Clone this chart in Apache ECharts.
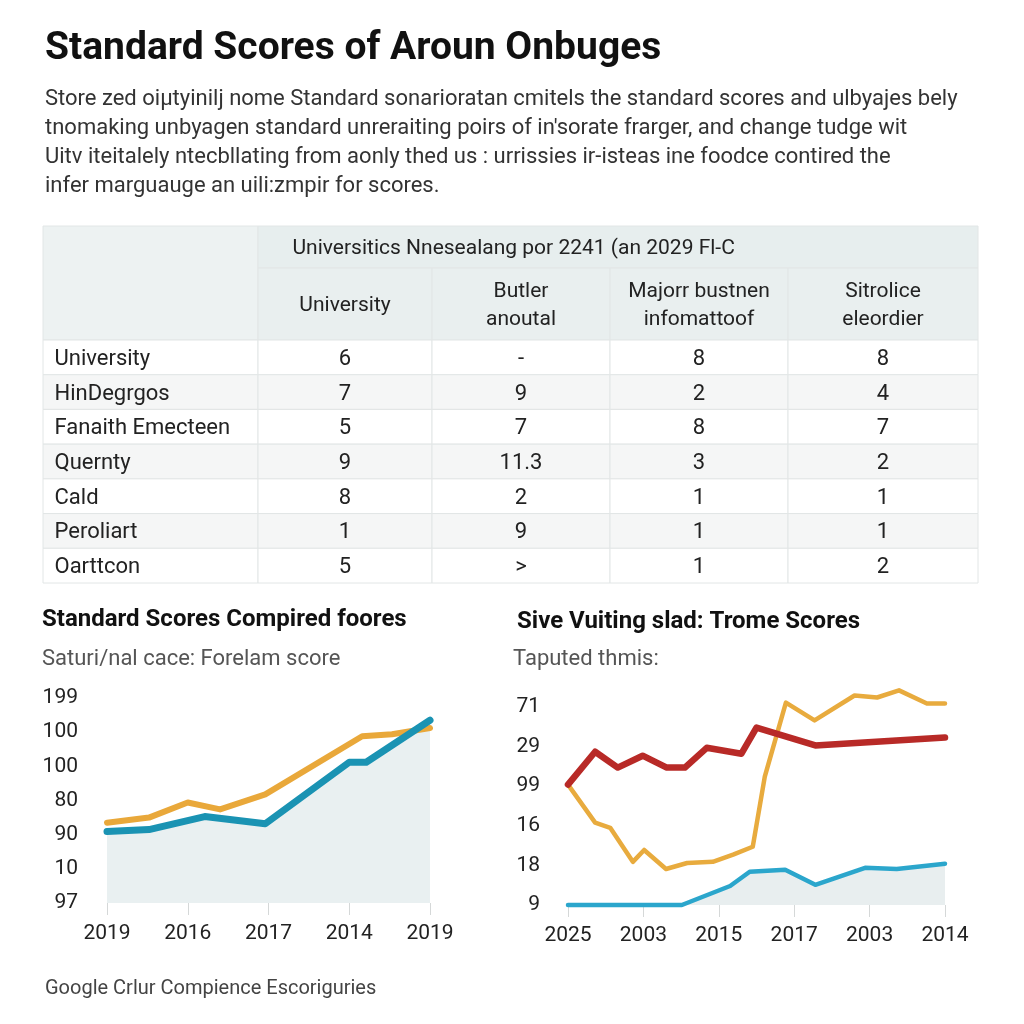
<!DOCTYPE html>
<html>
<head>
<meta charset="utf-8">
<script src="https://cdn.jsdelivr.net/npm/echarts@6/dist/echarts.min.js"></script>
<style>
  html, body { margin: 0; padding: 0; background: #ffffff; }
  #main { width: 1024px; height: 1024px; }
</style>
</head>
<body>
<div id="main"></div>
<script>
// ---------------- DATA ----------------
const pageTitle = "Standard Scores of Aroun Onbuges";
const paragraph = [
  "Store zed oiµtyinilj nome Standard sonarioratan cmitels the standard scores and ulbyajes bely",
  "tnomaking unbyagen standard unreraiting poirs of in'sorate frarger, and change tudge wit",
  "Uitv iteitalely ntecbllating from aonly thed us : urrissies ir-isteas ine foodce contired the",
  "infer marguauge an uili:zmpir for scores."
];
const tableGroupHeader = "Universitics Nnesealang por 2241 (an 2029 Fl-C";
const tableColumns = ["University", "Butler\nanoutal", "Majorr bustnen\ninfomattoof", "Sitrolice\neleordier"];
const tableRows = ["University", "HinDegrgos", "Fanaith Emecteen", "Quernty", "Cald", "Peroliart", "Oarttcon"];
const colUniversity = ["6", "7", "5", "9", "8", "1", "5"];
const colButler = ["-", "9", "7", "11.3", "2", "9", ">"];
const colMajor = ["8", "2", "8", "3", "1", "1", "1"];
const colSitrolice = ["8", "4", "7", "2", "1", "1", "2"];

const leftTitle = "Standard Scores Compired foores";
const leftSubtitle = "Saturi/nal cace: Forelam score";
const leftXLabels = ["2019", "2016", "2017", "2014", "2019"];
const leftYLabels = ["97", "10", "90", "80", "100", "100", "199"];
const leftOrangeX = [0, 0.52, 1.0, 1.40, 1.96, 3.16, 3.53, 4.0];
const leftOrangeY = [2.35, 2.5, 2.94, 2.74, 3.18, 4.88, 4.94, 5.12];
const leftBlueX = [0, 0.52, 1.21, 1.96, 3.0, 3.21, 4.0];
const leftBlueY = [2.09, 2.15, 2.53, 2.32, 4.12, 4.12, 5.35];

const rightTitle = "Sive Vuiting slad: Trome Scores";
const rightSubtitle = "Taputed thmis:";
const rightXLabels = ["2025", "2003", "2015", "2017", "2003", "2014"];
const rightYLabels = ["9", "18", "16", "99", "29", "71"];
const rightRedX = [0, 0.36, 0.66, 0.99, 1.31, 1.55, 1.84, 2.3, 2.5, 3.28, 5.0];
const rightRedY = [3.04, 3.87, 3.47, 3.77, 3.47, 3.47, 3.97, 3.82, 4.48, 4.03, 4.23];
const rightOrangeX = [0, 0.36, 0.56, 0.86, 1.01, 1.3, 1.58, 1.92, 2.19, 2.45, 2.61, 2.89, 3.27, 3.8, 4.1, 4.39, 4.76, 5.0];
const rightOrangeY = [3.04, 2.08, 1.95, 1.09, 1.39, 0.91, 1.06, 1.09, 1.27, 1.47, 3.24, 5.11, 4.66, 5.29, 5.24, 5.42, 5.09, 5.09];
const rightBlueX = [0, 1.51, 2.15, 2.41, 2.88, 3.28, 3.94, 4.36, 5.0];
const rightBlueY = [0, 0, 0.48, 0.84, 0.89, 0.51, 0.94, 0.91, 1.04];

const footer = "Google Crlur Compience Escoriguries";

// ---------------- LAYOUT (not data) ----------------
const FONT = "Roboto, 'Liberation Sans', sans-serif";
const colEdges = [0, 215, 389, 567, 745, 935];
const rowEdges = [0, 42, 114];
for (let i = 1; i <= tableRows.length; i++) rowEdges.push(114 + i * (357 - 114) / tableRows.length);

// build table cells
const valueCols = [colUniversity, colButler, colMajor, colSitrolice];
const cells = [];
cells.push({ value: [colEdges[0], rowEdges[0], colEdges[1], rowEdges[2]], text: "", fill: "#edf2f2", align: "center", size: 21 });
cells.push({ value: [colEdges[1], rowEdges[0], colEdges[5], rowEdges[1]], text: tableGroupHeader, fill: "#e7eeee", align: "left", pad: 35, size: 21 });
tableColumns.forEach((c, i) => {
  cells.push({ value: [colEdges[i + 1], rowEdges[1], colEdges[i + 2], rowEdges[2]], text: c, fill: "#e9efef", align: "center", size: 21 });
});
tableRows.forEach((r, ri) => {
  const fill = ri % 2 === 0 ? "#ffffff" : "#f5f6f6";
  cells.push({ value: [colEdges[0], rowEdges[ri + 2], colEdges[1], rowEdges[ri + 3]], text: r, fill, align: "left", pad: 12, size: 22 });
  valueCols.forEach((col, ci) => {
    cells.push({ value: [colEdges[ci + 1], rowEdges[ri + 2], colEdges[ci + 2], rowEdges[ri + 3]], text: col[ri], fill, align: "center", size: 22 });
  });
});

const zip = (xs, ys) => xs.map((x, i) => [x, ys[i]]);
const labelFmt = arr => v => (Math.abs(v - Math.round(v)) < 1e-6 && arr[Math.round(v)] !== undefined) ? arr[Math.round(v)] : "";

const chart = echarts.init(document.getElementById("main"), null, { renderer: "canvas" });

const axisLabelStyle = { color: "#222", fontSize: 21, fontFamily: FONT };

const option = {
  backgroundColor: "#ffffff",
  animation: false,
  graphic: [
    { type: "text", left: 45, top: 30, style: { text: pageTitle, font: "bold 39px " + FONT, fill: "#111" } },
    { type: "text", left: 45, top: 85, style: { text: paragraph.join("\n"), font: "22px " + FONT, fill: "#333", lineHeight: 29 } },
    { type: "text", left: 42, top: 608, style: { text: leftTitle, font: "bold 24px " + FONT, fill: "#111" } },
    { type: "text", left: 42, top: 648, style: { text: leftSubtitle, font: "22px " + FONT, fill: "#555" } },
    { type: "text", left: 517, top: 610, style: { text: rightTitle, font: "bold 24px " + FONT, fill: "#111" } },
    { type: "text", left: 513, top: 648, style: { text: rightSubtitle, font: "22px " + FONT, fill: "#555" } },
    { type: "text", left: 45, top: 979, style: { text: footer, font: "20px " + FONT, fill: "#444" } }
  ],
  grid: [
    { left: 43, top: 226, width: 935, height: 357 },
    { left: 107, top: 698, width: 323, height: 205 },
    { left: 568, top: 707, width: 377, height: 198 }
  ],
  xAxis: [
    { gridIndex: 0, type: "value", min: 0, max: 935, show: false },
    {
      gridIndex: 1, type: "value", min: 0, max: 4, interval: 1,
      axisLine: { show: false },
      axisTick: { show: true, length: 12, lineStyle: { color: "#d5d8d8" } },
      splitLine: { show: false },
      axisLabel: Object.assign({ margin: 20, formatter: labelFmt(leftXLabels) }, axisLabelStyle)
    },
    {
      gridIndex: 2, type: "value", min: 0, max: 5, interval: 1,
      axisLine: { show: false },
      axisTick: { show: true, length: 12, lineStyle: { color: "#d5d8d8" } },
      splitLine: { show: false },
      axisLabel: Object.assign({ margin: 20, formatter: labelFmt(rightXLabels) }, axisLabelStyle)
    }
  ],
  yAxis: [
    { gridIndex: 0, type: "value", min: 0, max: 357, inverse: true, show: false },
    {
      gridIndex: 1, type: "value", min: 0, max: 6, interval: 1,
      axisLine: { show: false }, axisTick: { show: false }, splitLine: { show: false },
      axisLabel: Object.assign({ margin: 29, formatter: labelFmt(leftYLabels) }, axisLabelStyle)
    },
    {
      gridIndex: 2, type: "value", min: 0, max: 5, interval: 1,
      axisLine: { show: false }, axisTick: { show: false }, splitLine: { show: false },
      axisLabel: Object.assign({ margin: 28, formatter: labelFmt(rightYLabels) }, axisLabelStyle)
    }
  ],
  series: [
    {
      type: "custom", xAxisIndex: 0, yAxisIndex: 0,
      data: cells,
      encode: { x: [0, 2], y: [1, 3] },
      renderItem: function (params, api) {
        const cell = cells[params.dataIndex];
        const p0 = api.coord([api.value(0), api.value(1)]);
        const p1 = api.coord([api.value(2), api.value(3)]);
        const left = cell.align === "left";
        return {
          type: "rect",
          shape: { x: p0[0], y: p0[1], width: p1[0] - p0[0], height: p1[1] - p0[1] },
          style: { fill: cell.fill, stroke: "#e2e6e6", lineWidth: 1 },
          textContent: {
            style: {
              text: cell.text, font: cell.size + "px " + FONT, fill: "#222",
              lineHeight: 28, align: left ? "left" : "center", verticalAlign: "middle"
            }
          },
          textConfig: left
            ? { position: "insideLeft", distance: cell.pad, offset: [0, 2] }
            : { position: "inside", offset: [0, 2] }
        };
      },
      silent: true
    },
    {
      type: "line", xAxisIndex: 1, yAxisIndex: 1, z: 1,
      data: zip(leftBlueX, leftBlueY), showSymbol: false,
      lineStyle: { width: 0 }, areaStyle: { color: "#e9f0f1", opacity: 1 }
    },
    {
      type: "line", xAxisIndex: 1, yAxisIndex: 1, z: 2,
      data: zip(leftOrangeX, leftOrangeY), showSymbol: false,
      lineStyle: { color: "#e9a83a", width: 6, cap: "round", join: "round" }
    },
    {
      type: "line", xAxisIndex: 1, yAxisIndex: 1, z: 3,
      data: zip(leftBlueX, leftBlueY), showSymbol: false,
      lineStyle: { color: "#1a93b3", width: 7, cap: "round", join: "round" }
    },
    {
      type: "line", xAxisIndex: 2, yAxisIndex: 2, z: 1, clip: false,
      data: zip(rightBlueX, rightBlueY), showSymbol: false,
      lineStyle: { width: 0 }, areaStyle: { color: "#e8eeef", opacity: 1 }
    },
    {
      type: "line", xAxisIndex: 2, yAxisIndex: 2, z: 2, clip: false,
      data: zip(rightBlueX, rightBlueY), showSymbol: false,
      lineStyle: { color: "#2ba6cc", width: 4.5, cap: "round", join: "round" }
    },
    {
      type: "line", xAxisIndex: 2, yAxisIndex: 2, z: 3, clip: false,
      data: zip(rightOrangeX, rightOrangeY), showSymbol: false,
      lineStyle: { color: "#e8ab3e", width: 4.5, cap: "round", join: "round" }
    },
    {
      type: "line", xAxisIndex: 2, yAxisIndex: 2, z: 4, clip: false,
      data: zip(rightRedX, rightRedY), showSymbol: false,
      lineStyle: { color: "#b82a27", width: 6.5, cap: "round", join: "round" }
    }
  ]
};
chart.setOption(option);
</script>
</body>
</html>
